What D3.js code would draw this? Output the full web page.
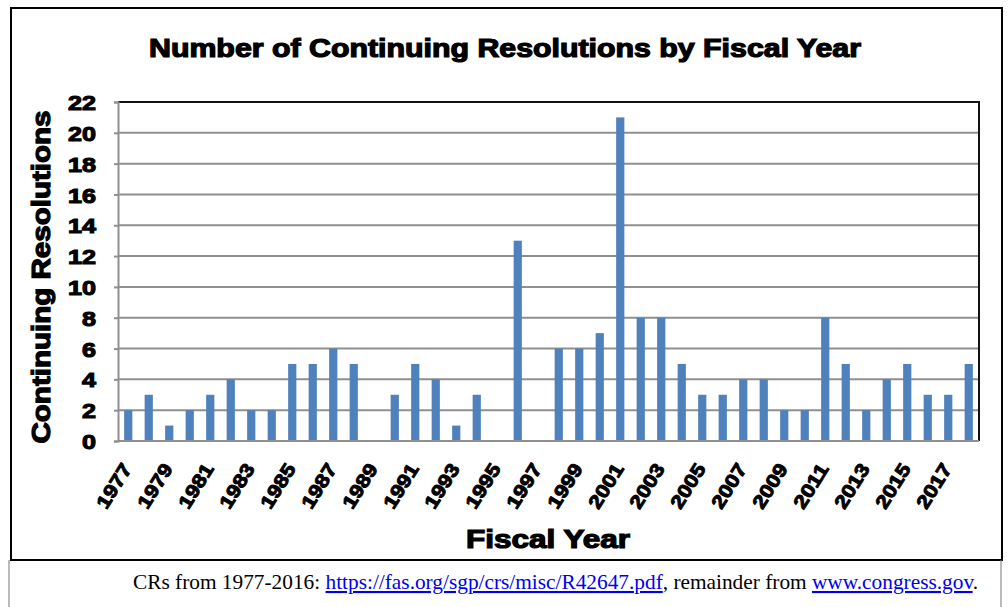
<!DOCTYPE html>
<html>
<head>
<meta charset="utf-8">
<script src="https://cdn.jsdelivr.net/npm/d3@7"></script>
<style>
  body { margin: 0; background: #fff; }
  svg { display: block; }
  .heavy { font-family: "Liberation Sans", Arial, sans-serif; font-weight: bold; fill: #000; }
</style>
</head>
<body>
<script>
"use strict"

// Data
const years = [1977, 1978, 1979, 1980, 1981, 1982, 1983, 1984, 1985, 1986,
  1987, 1988, 1989, 1990, 1991, 1992, 1993, 1994, 1995, 1996,
  1997, 1998, 1999, 2000, 2001, 2002, 2003, 2004, 2005, 2006,
  2007, 2008, 2009, 2010, 2011, 2012, 2013, 2014, 2015, 2016,
  2017, 2018]
const counts = [2, 3, 1, 2, 3, 4, 2, 2, 5, 5,
  6, 5, 0, 3, 5, 4, 1, 3, 0, 13,
  0, 6, 6, 7, 21, 8, 8, 5, 3, 3,
  4, 4, 2, 2, 8, 5, 2, 4, 5, 3,
  3, 5]
const yTicks = [0, 2, 4, 6, 8, 10, 12, 14, 16, 18, 20, 22]
const xTickYears = years.filter((y, i) => i % 2 === 0 && y < 2018)

const title = "Number of Continuing Resolutions by Fiscal Year"
const yTitle = "Continuing Resolutions"
const xTitle = "Fiscal Year"

const width = 1008
const height = 607
const plot = { left: 118, top: 102, right: 979, bottom: 441 }

const svg = d3.select("body").append("svg")
  .attr("width", width)
  .attr("height", height)

// Outer frames
svg.append("rect").attr("x", 11).attr("y", 8).attr("width", 991).attr("height", 552)
  .attr("fill", "none").attr("stroke", "#000").attr("stroke-width", 2)
svg.append("path").attr("d", "M9,560 V607 M1001,560 V607")
  .attr("stroke", "#777").attr("stroke-width", 1).attr("fill", "none")

const x = d3.scaleBand().domain(years).range([plot.left, plot.right]).paddingInner(0.6).paddingOuter(0.3)
const y = d3.scaleLinear().domain([0, 22]).range([plot.bottom, plot.top])

// Gridlines
svg.append("g").selectAll("line").data(yTicks.filter(t => t > 0 && t < 22)).join("line")
  .attr("x1", plot.left).attr("x2", plot.right)
  .attr("y1", d => y(d)).attr("y2", d => y(d))
  .attr("stroke", "#8f8f8f").attr("stroke-width", 2)

// Plot frame: top and right dark, left and bottom gray
svg.append("path").attr("d", `M${plot.left},${plot.top} H${plot.right} V${plot.bottom}`)
  .attr("fill", "none").attr("stroke", "#111").attr("stroke-width", 2)

// Bars
svg.append("g").selectAll("rect").data(years.map((yr, i) => ({ yr, v: counts[i] }))).join("rect")
  .attr("x", d => x(d.yr))
  .attr("y", d => y(d.v))
  .attr("width", x.bandwidth())
  .attr("height", d => y(0) - y(d.v))
  .attr("fill", "#4f81bd")

// Axes
const yAxis = svg.append("g").attr("transform", `translate(${plot.left},0)`)
  .call(d3.axisLeft(y).tickValues(yTicks).tickSize(4).tickPadding(18))
yAxis.attr("font-size", null).attr("font-family", null)
yAxis.select(".domain").attr("stroke", "#8f8f8f").attr("stroke-width", 2)
yAxis.selectAll(".tick line").attr("stroke", "#8f8f8f").attr("stroke-width", 2)
yAxis.selectAll("text").attr("class", "heavy").style("font-size", "21px").attr("fill", "#000")
  .attr("stroke", "#000").attr("stroke-width", 1.1).attr("dy", "0.36em")
  .attr("textLength", d => d >= 10 ? 28 : 14).attr("lengthAdjust", "spacingAndGlyphs")

const xAxis = svg.append("g").attr("transform", `translate(0,${plot.bottom})`)
  .call(d3.axisBottom(x).tickValues(xTickYears).tickSize(0).tickPadding(0))
xAxis.attr("font-size", null).attr("font-family", null)
xAxis.select(".domain").attr("stroke", "#8f8f8f").attr("stroke-width", 2)
  .attr("d", `M${plot.left},0 H${plot.right}`)
xAxis.selectAll("text").attr("class", "heavy").style("font-size", "19px")
  .attr("stroke", "#000").attr("stroke-width", 1)
  .attr("text-anchor", "end").attr("dy", null).attr("y", 0)
  .attr("textLength", 49).attr("lengthAdjust", "spacingAndGlyphs")
  .attr("transform", "translate(0,25) rotate(-58)")
  .attr("dominant-baseline", "middle")

// Titles
svg.append("text").attr("class", "heavy").attr("x", 505).attr("y", 57)
  .attr("text-anchor", "middle").style("font-size", "25px")
  .attr("stroke", "#000").attr("stroke-width", 1.2)
  .attr("textLength", 712).attr("lengthAdjust", "spacingAndGlyphs")
  .text(title)

svg.append("text").attr("class", "heavy")
  .attr("transform", "translate(50,277) rotate(-90)")
  .attr("text-anchor", "middle").style("font-size", "25px")
  .attr("stroke", "#000").attr("stroke-width", 1.2)
  .attr("textLength", 333).attr("lengthAdjust", "spacingAndGlyphs")
  .text(yTitle)

svg.append("text").attr("class", "heavy").attr("x", 548).attr("y", 548)
  .attr("text-anchor", "middle").style("font-size", "25px")
  .attr("stroke", "#000").attr("stroke-width", 1.2)
  .attr("textLength", 164).attr("lengthAdjust", "spacingAndGlyphs")
  .text(xTitle)

// Footnote
const note = svg.append("text").attr("x", 133).attr("y", 589)
  .attr("font-family", "'Liberation Serif', 'Times New Roman', serif").style("font-size", "21px")
  .attr("textLength", 845).attr("lengthAdjust", "spacingAndGlyphs")
  .attr("fill", "#000")
note.append("tspan").text("CRs from 1977-2016: ")
note.append("tspan").attr("fill", "#0000ee").attr("text-decoration", "underline")
  .text("https://fas.org/sgp/crs/misc/R42647.pdf")
note.append("tspan").text(", remainder from ")
note.append("tspan").attr("fill", "#0000ee").attr("text-decoration", "underline")
  .text("www.congress.gov")
note.append("tspan").text(".")
</script>
</body>
</html>
